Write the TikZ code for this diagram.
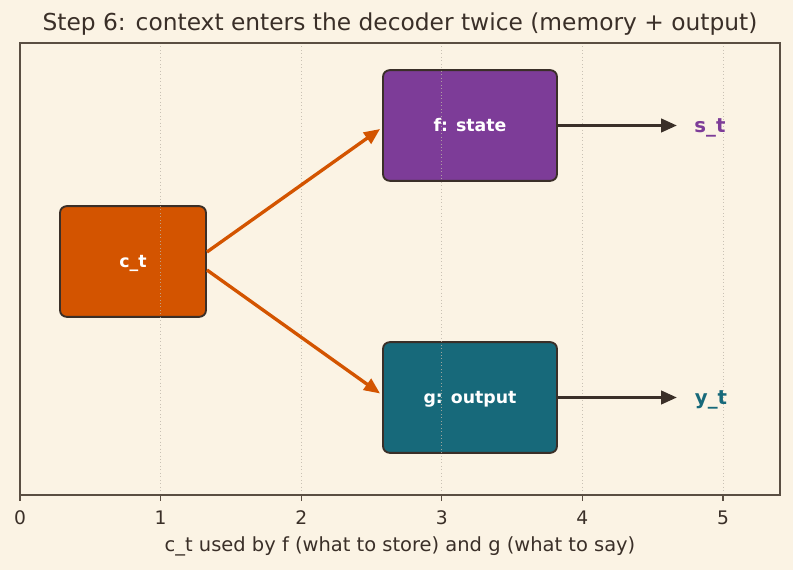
\documentclass[tikz,border=0pt]{standalone}
\usepackage{fontspec}
\setmainfont{DejaVu Sans}
\usetikzlibrary{calc,arrows.meta}
\definecolor{bg}{HTML}{FBF3E4}
\definecolor{ink}{HTML}{3A2F28}
\definecolor{axisc}{HTML}{5A4E42}
\definecolor{gridc}{HTML}{BDB5A8}
\definecolor{orng}{HTML}{D35400}
\definecolor{purp}{HTML}{7D3C98}
\definecolor{teal}{HTML}{17697A}
\tikzset{
  boxn/.style={draw=ink, line width=1.4pt, rounded corners=5pt, minimum width=109.5pt, minimum height=83pt, inner sep=0pt, text=white, text height=9.5pt, text depth=0pt, font=\fontsize{13}{15}\selectfont\bfseries},
  feed/.style={draw=orng, line width=2.5pt, -{Stealth[length=12pt,width=10pt,inset=0pt]}},
  outarr/.style={draw=ink, line width=2.5pt, -{Stealth[length=12pt,width=10pt,inset=0pt]}},
  outlab/.style={font=\fontsize{14.8}{17}\selectfont\bfseries, text height=10.5pt, text depth=0pt, inner sep=0pt},
  tick/.style={font=\fontsize{14}{16}\selectfont, text=ink},
}
\begin{document}
\begin{tikzpicture}[x=0.75pt,y=-0.75pt]
\useasboundingbox[fill=bg] (0,0) rectangle (793,570);
% title
\node[font=\fontsize{17.5}{20}\selectfont, text=ink] (title) at (400,24) {Step 6: context enters the decoder twice (memory + output)};
% boxes
\node[boxn, fill=orng, minimum width=109.5pt] (ct) at (133,261.5) {c\_t};
\node[boxn, fill=purp, minimum width=130.5pt] (f) at (470,125.5) {f: state};
\node[boxn, fill=teal, minimum width=130.5pt] (g) at (470,397.5) {g: output};
% grid (on top, dotted)
\foreach \k in {1,...,5}{
  \draw[gridc, line width=0.6pt, dotted, opacity=0.8] ({20+140.6*\k},43) -- ({20+140.6*\k},495);
}
% feeds
\coordinate (fin) at ($(f.west)+(-2,3.5)$);
\coordinate (gin) at ($(g.west)+(-2,-4)$);
\draw[feed] ($(ct.east)+(0,-9.5)$) -- (fin);
\draw[feed] ($(ct.east)+(0,8.5)$) -- (gin);
% outputs
\node[outlab, text=purp] (st) at (710,125.5) {s\_t};
\node[outlab, text=teal] (yt) at (711,397.5) {y\_t};
\coordinate (sin) at (677,125.5);
\coordinate (yin) at (677,397.5);
\draw[outarr] (f.east) -- (sin);
\draw[outarr] (g.east) -- (yin);
% axes frame
\draw[axisc, line width=1pt] (20,43) rectangle (780,495);
\foreach \k in {0,...,5}{
  \draw[axisc, line width=1pt] ({20+140.6*\k},495) -- ({20+140.6*\k},501);
  \node[tick] (t\k) at ({20+140.6*\k},518) {\k};
}
\node[font=\fontsize{14.6}{17}\selectfont, text=ink] (xl) at (400,546) {c\_t used by f (what to store) and g (what to say)};
\end{tikzpicture}
\end{document}
